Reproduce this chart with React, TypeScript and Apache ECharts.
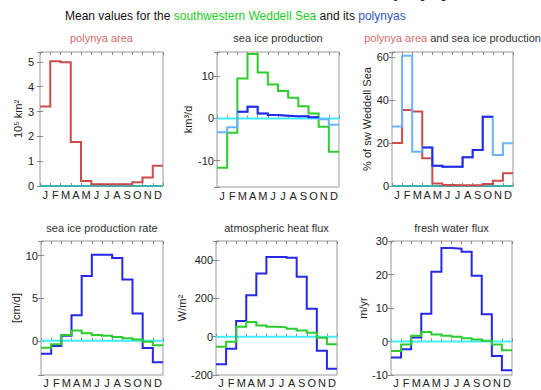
import React, { useEffect, useRef } from 'react';
import * as echarts from 'echarts';

const FONT = '"Liberation Sans", Arial, Helvetica, sans-serif';

const months = ['J', 'F', 'M', 'A', 'M', 'J', 'J', 'A', 'S', 'O', 'N', 'D'];

// polynya area (10^5 km^2)
const areaPolynya = [3.2, 5.03, 4.99, 1.77, 0.2, 0.07, 0.07, 0.07, 0.07, 0.15, 0.34, 0.82];
// sea ice production (km^3/d)
const prodSWWS = [-11.7, -3.4, 9.5, 15.3, 10.9, 8.1, 6.5, 4.9, 2.9, 1.2, -2.0, -7.9];
const prodPolynya = [-3.3, -2.1, 1.6, 2.8, 1.2, 0.8, 0.65, 0.55, 0.5, 0.3, -0.2, -1.5];
// % of sw Weddell Sea
const pctArea = [20, 35.5, 34.8, 12.9, 1.2, 0.5, 0.3, 0.4, 0.4, 0.9, 2.5, 5.9];
const pctProd = [27.7, 60.8, 16.0, 18.0, 9.5, 9.0, 9.0, 13.4, 16.8, 32.3, 14.5, 19.9];
// sea ice production rate (cm/d)
const rateSWWS = [-0.8, -0.4, 0.7, 1.2, 0.9, 0.7, 0.6, 0.45, 0.3, 0.15, -0.1, -0.5];
const ratePolynya = [-1.5, -0.6, 0.6, 3.0, 7.6, 10.1, 10.1, 9.7, 7.2, 3.2, -0.85, -2.5];
// atmospheric heat flux (W/m^2)
const heatSWWS = [-52, -26, 52, 77, 59, 52, 49, 42, 33, 21, -5, -40];
const heatPolynya = [-144, -63, 82, 216, 330, 416, 416, 412, 313, 146, -73, -167];
// fresh water flux (m/yr)
const fwSWWS = [-2.8, -0.9, 1.7, 2.8, 2.1, 1.7, 1.4, 1.0, 0.6, 0.2, -0.9, -2.6];
const fwPolynya = [-4.8, -2.3, 1.2, 8.3, 20.8, 27.9, 27.7, 26.8, 19.6, 8.1, -4.3, -8.6];

const RED = '#cc4b4b';
const GREEN = '#2fcc2f';
const BLUE = '#2727e8';
const LBLUE = '#6ab4ff';
const CYAN = '#3eeeff';
const TEAL = '#3fb0b0';
const TITLE_RED = '#d46a6a';

type SDef = { vals: number[]; color: string; from?: number; to?: number };
type Panel = {
  title: string;
  ymin: number;
  ymax: number;
  step: number;
  yname: string;
  nameGap: number;
  labelMargin: number;
  zero: string;
  series: SDef[];
};

const panels: Panel[] = [
  {
    title: '{r|polynya area}', ymin: 0, ymax: 5.4, step: 1, yname: '10⁵ km²', nameGap: 16, labelMargin: 6, zero: TEAL,
    series: [{ vals: areaPolynya, color: RED }],
  },
  {
    title: '{k|sea ice production}', ymin: -16.3, ymax: 15.8, step: 10, yname: 'km³/d', nameGap: 24, labelMargin: 3, zero: CYAN,
    series: [
      { vals: prodSWWS, color: GREEN },
      { vals: prodPolynya, color: LBLUE },
      { vals: prodPolynya, color: BLUE, from: 2, to: 10 },
    ],
  },
  {
    title: '{r|polynya area}{k| and sea ice production}', ymin: 0, ymax: 62.5, step: 20, yname: '% of sw Weddell Sea', nameGap: 19, labelMargin: 3, zero: TEAL,
    series: [
      { vals: pctArea, color: RED },
      { vals: pctProd, color: LBLUE },
      { vals: pctProd, color: BLUE, from: 3, to: 10 },
    ],
  },
  {
    title: '{k|sea ice production rate}', ymin: -4, ymax: 11.7, step: 5, yname: '[cm/d]', nameGap: 18, labelMargin: 3, zero: CYAN,
    series: [
      { vals: ratePolynya, color: BLUE },
      { vals: rateSWWS, color: GREEN },
    ],
  },
  {
    title: '{k|atmospheric heat flux}', ymin: -200, ymax: 500, step: 200, yname: 'W/m²', nameGap: 29, labelMargin: 3, zero: CYAN,
    series: [
      { vals: heatPolynya, color: BLUE },
      { vals: heatSWWS, color: GREEN },
    ],
  },
  {
    title: '{k|fresh water flux}', ymin: -10, ymax: 30, step: 10, yname: 'm/yr', nameGap: 23, labelMargin: 3, zero: CYAN,
    series: [
      { vals: fwPolynya, color: BLUE },
      { vals: fwSWWS, color: GREEN },
    ],
  },
];

const gridPos = [
  { left: 40, top: 52, width: 123, height: 134 },
  { left: 217, top: 52, width: 122, height: 135 },
  { left: 392, top: 52, width: 121, height: 134 },
  { left: 41, top: 241, width: 122, height: 134 },
  { left: 216, top: 241, width: 121, height: 134 },
  { left: 391, top: 241, width: 121, height: 134 },
];

function stepPoints(vals: number[], from = 0, to = vals.length) {
  const pts: number[][] = [];
  for (let i = from; i < to; i++) pts.push([i, vals[i]]);
  pts.push([to, vals[to - 1]]);
  return pts;
}

const fmt = (step: number) => (v: number) => {
  const k = v / step;
  return Math.abs(k - Math.round(k)) < 1e-6 ? String(Math.round(k) * step) : '';
};

function buildOption() {
  const grid: any[] = [];
  const xAxis: any[] = [];
  const yAxis: any[] = [];
  const series: any[] = [];
  const title: any[] = [];

  const richT = {
    r: { color: TITLE_RED, fontSize: 11, fontWeight: 'normal', fontFamily: FONT },
    k: { color: '#333', fontSize: 11, fontWeight: 'normal', fontFamily: FONT },
  };

  title.push({
    text: 'Sources and sinks of sea ice and the role of polynyas',
    left: 13,
    top: -18,
    padding: 0,
    textStyle: { fontSize: 18, fontWeight: 'bold', color: '#222', fontFamily: FONT },
  });
  title.push({
    text: '{k|Mean values for the }{g|southwestern Weddell Sea}{k| and its }{b|polynyas}',
    left: 65,
    top: 10,
    padding: 0,
    textStyle: {
      fontSize: 12,
      fontWeight: 'normal',
      fontFamily: FONT,
      rich: {
        k: { color: '#111', fontSize: 12, fontWeight: 'normal', fontFamily: FONT },
        g: { color: '#22cc22', fontSize: 12, fontWeight: 'normal', fontFamily: FONT },
        b: { color: '#3355cc', fontSize: 12, fontWeight: 'normal', fontFamily: FONT },
      },
    },
  });

  panels.forEach((p, i) => {
    const g = gridPos[i];
    grid.push({
      ...g,
      show: true,
      borderColor: '#9a9a9a',
      borderWidth: 1,
      backgroundColor: 'transparent',
      containLabel: false,
      outerBoundsMode: 'none',
    });
    title.push({
      text: p.title,
      left: g.left + g.width / 2,
      top: i < 3 ? 32 : 222,
      textAlign: 'center',
      padding: 0,
      textStyle: { fontSize: 11, fontWeight: 'normal', fontFamily: FONT, rich: richT },
    });
    const tickStyle = { show: true, inside: true, length: 3, lineStyle: { color: '#888', width: 1 } };
    // bottom value axis (ticks at month boundaries)
    xAxis.push({
      type: 'value', gridIndex: i, position: 'bottom', min: 0, max: 12, interval: 1,
      axisLine: { show: false }, axisTick: tickStyle, axisLabel: { show: false }, splitLine: { show: false },
    });
    // bottom category axis (month letters)
    xAxis.push({
      type: 'category', gridIndex: i, position: 'bottom', data: months, boundaryGap: true,
      axisLine: { show: false }, axisTick: { show: false }, splitLine: { show: false },
      axisLabel: { interval: 0, margin: i < 3 ? 3 : 2, fontSize: 11, color: '#222', fontFamily: FONT },
    });
    // top ticks
    xAxis.push({
      type: 'value', gridIndex: i, position: 'top', min: 0, max: 12, interval: 1,
      axisLine: { show: false }, axisTick: tickStyle, axisLabel: { show: false }, splitLine: { show: false },
    });
    const yBase = {
      type: 'value', gridIndex: i, min: p.ymin, max: p.ymax, minInterval: p.step, maxInterval: p.step,
      axisLine: { show: false }, axisTick: tickStyle, splitLine: { show: false },
    };
    yAxis.push({
      ...yBase, position: 'left',
      axisLabel: { formatter: fmt(p.step), margin: p.labelMargin, fontSize: 11, color: '#222', fontFamily: FONT },
      name: p.yname, nameLocation: 'middle', nameGap: p.nameGap,
      nameTextStyle: { fontSize: 11, color: '#222', fontFamily: FONT },
    });
    yAxis.push({ ...yBase, position: 'right', axisLabel: { show: false } });

    const xi = i * 3;
    const yi = i * 2;
    series.push({
      type: 'line', xAxisIndex: xi, yAxisIndex: yi, data: [[0, 0], [12, 0]],
      showSymbol: false, symbol: 'none', silent: true, z: 1,
      lineStyle: { color: p.zero, width: 2 },
    });
    p.series.forEach((s, j) => {
      series.push({
        type: 'line', xAxisIndex: xi, yAxisIndex: yi, step: 'end',
        data: stepPoints(s.vals, s.from ?? 0, s.to ?? s.vals.length),
        showSymbol: false, symbol: 'none', silent: true, z: 2 + j,
        lineStyle: { color: s.color, width: 2, join: 'miter' },
      });
    });
  });

  return {
    animation: false,
    backgroundColor: '#fff',
    textStyle: { fontFamily: FONT },
    title,
    grid,
    xAxis,
    yAxis,
    series,
  };
}

export default function App() {
  const ref = useRef<HTMLDivElement>(null);
  useEffect(() => {
    const chart = echarts.init(ref.current as HTMLDivElement, undefined, { renderer: 'svg' });
    chart.setOption(buildOption() as any);
    return () => chart.dispose();
  }, []);
  return (
    <div
      ref={ref}
      style={{ position: 'absolute', left: 0, top: 0, width: 541, height: 390, background: '#fff' }}
    />
  );
}
